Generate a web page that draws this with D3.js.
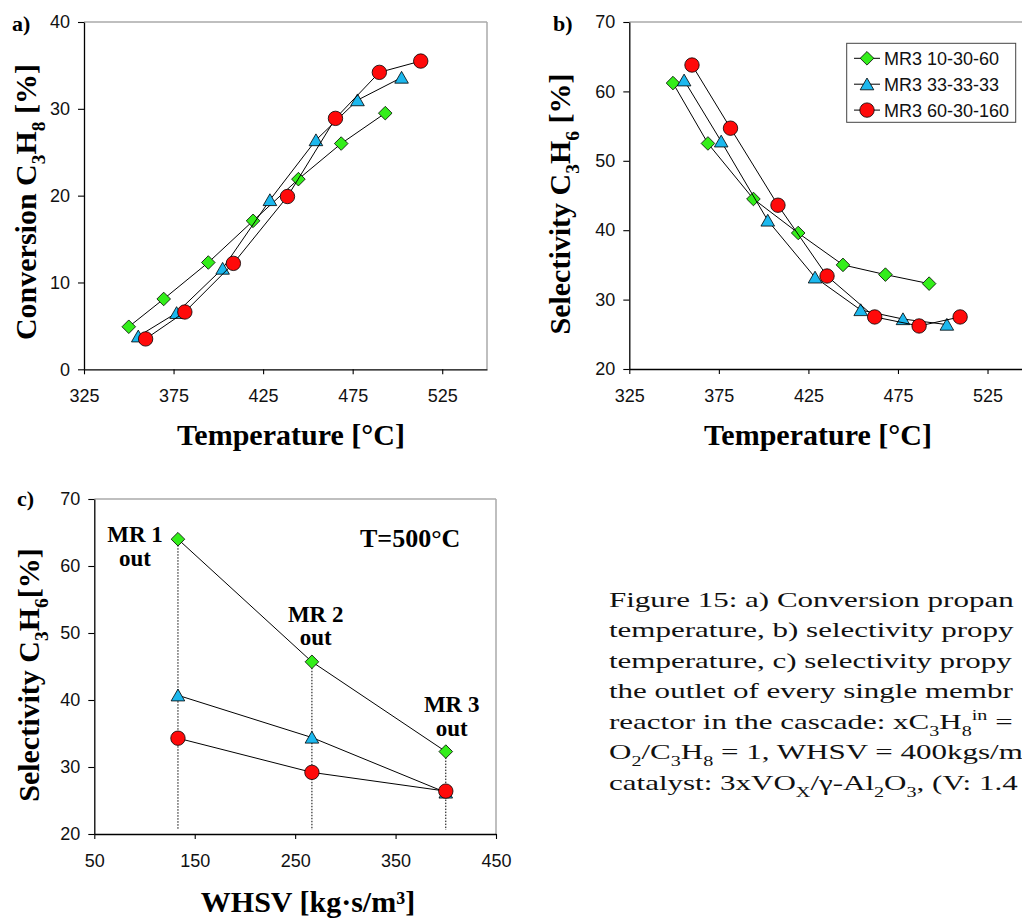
<!DOCTYPE html>
<html>
<head>
<meta charset="utf-8">
<script src="https://cdn.jsdelivr.net/npm/d3@7"></script>
<style>
body{margin:0;background:#fff;}
svg{display:block;}
</style>
</head>
<body>
<div id="chart"></div>
<script>
"use strict";

// series names, in legend order
let seriesNames = ["MR3 10-30-60", "MR3 33-33-33", "MR3 60-30-160"];

// a) conversion C3H8 [%] vs temperature [°C]
let tempA1 = [350, 369.5, 394.4, 419.4, 444.7, 468.6, 493.2];
let convA1 = [4.9, 8.1, 12.3, 17.1, 21.9, 26.0, 29.5];
let tempA2 = [355.3, 376.7, 402.4, 428.8, 454.5, 477.7, 502.3];
let convA2 = [3.8, 6.5, 11.6, 19.5, 26.4, 31.0, 33.6];
let tempA3 = [359.4, 381.3, 408.4, 438.6, 465.4, 489.9, 513];
let convA3 = [3.5, 6.6, 12.2, 19.9, 28.9, 34.2, 35.5];

// b) selectivity C3H6 [%] vs temperature [°C]
let tempB1 = [349.4, 368.9, 394.3, 419.3, 444.3, 468.0, 492.4];
let selB1 = [61.2, 52.5, 44.5, 39.6, 35.0, 33.6, 32.3];
let tempB2 = [355.6, 376.3, 402.3, 428.7, 454.2, 477.8, 502.3];
let selB2 = [61.6, 52.8, 41.4, 33.2, 28.5, 27.2, 26.4];
let tempB3 = [360, 381.5, 408, 435.4, 462, 486.8, 509.7];
let selB3 = [63.8, 54.7, 43.6, 33.4, 27.5, 26.2, 27.5];

// c) selectivity C3H6 [%] at reactor outlets vs WHSV
let whsv = [133.3, 266.7, 400];
let selC1 = [64.0, 45.7, 32.3];
let selC2 = [40.7, 34.4, 26.2];
let selC3 = [34.3, 29.2, 26.4];

// tick labels
let tempTicks = [325, 375, 425, 475, 525];
let convTicks = [0, 10, 20, 30, 40];
let selTicks = [20, 30, 40, 50, 60, 70];
let whsvTicks = [50, 150, 250, 350, 450];

let colors = ["#33ee1a", "#1cb8ee", "#ff0a0a"];
let kinds = ["diamond", "triangle", "circle"];

let serif = "'Liberation Serif','Times New Roman',serif";
let sans = "'Liberation Sans',Arial,sans-serif";

let svg = d3.select("#chart")
.append("svg")
.attr("width", 1022)
.attr("height", 919)
.style("font-family", sans);

function markerPath(kind){
  if(kind === "diamond") return "M0,-6.8L6.8,0L0,6.8L-6.8,0Z";
  if(kind === "triangle") return "M0,-6.2L6.8,5.6L-6.8,5.6Z";
  return d3.symbol().type(d3.symbolCircle).size(Math.PI * 52)();
}

// text made of pieces: 0 normal, 1 subscript, -1 superscript
function richText(sel, parts, fs){
  let cur = 0;
  parts.forEach(function(p){
    let off = p[1] === 1 ? fs * 0.3 : (p[1] === -1 ? -fs * 0.42 : 0);
    sel.append("tspan")
    .attr("dy", off - cur)
    .attr("font-size", p[1] === 0 ? fs : fs * 0.65)
    .text(p[0]);
    cur = off;
  });
}

function drawFrame(x, y, xTicks, yTicks){
  let x0 = x.range()[0], x1 = x.range()[1];
  let yb = y.range()[0], yt = y.range()[1];

  svg.append("line")
  .attr("x1", x0).attr("x2", x1).attr("y1", yt).attr("y2", yt)
  .attr("stroke", "#aaa").attr("stroke-width", 1.5);
  svg.append("line")
  .attr("x1", x1).attr("x2", x1).attr("y1", yt).attr("y2", yb)
  .attr("stroke", "#aaa").attr("stroke-width", 1.5);

  let gx = svg.append("g")
  .attr("transform", "translate(0," + yb + ")")
  .call(d3.axisBottom(x).tickValues(xTicks).tickSize(5).tickSizeOuter(0).tickPadding(15));
  let gy = svg.append("g")
  .attr("transform", "translate(" + x0 + ",0)")
  .call(d3.axisLeft(y).tickValues(yTicks).tickSize(6).tickSizeOuter(0).tickPadding(8));

  [gx, gy].forEach(function(g){
    g.select(".domain").attr("stroke", "#000").attr("stroke-width", 1.3);
    g.selectAll(".tick line").attr("stroke", "#000").attr("stroke-width", 1.1);
    g.selectAll(".tick text")
    .attr("font-family", sans)
    .attr("font-size", 18)
    .attr("fill", "#111");
  });
}

function drawSeries(x, y, xs, ys, i){
  let pts = xs.map(function(v, j){ return [x(v), y(ys[j])]; });

  svg.append("path")
  .attr("d", d3.line()(pts))
  .attr("fill", "none")
  .attr("stroke", "#000")
  .attr("stroke-width", 1);

  svg.append("g")
  .selectAll("path")
  .data(pts)
  .join("path")
  .attr("transform", function(d){ return "translate(" + d[0] + "," + d[1] + ")"; })
  .attr("d", markerPath(kinds[i]))
  .attr("fill", colors[i])
  .attr("stroke", "#000")
  .attr("stroke-width", 0.8);
}

function yTitle(cx, cy, parts){
  let t = svg.append("text")
  .attr("transform", "translate(" + cx + "," + cy + ") rotate(-90)")
  .attr("text-anchor", "middle")
  .attr("font-family", serif)
  .attr("font-weight", "bold");
  richText(t, parts, 30);
}

function plainText(x, y, txt, size, anchor){
  svg.append("text")
  .attr("x", x).attr("y", y)
  .attr("text-anchor", anchor)
  .attr("font-family", serif)
  .attr("font-weight", "bold")
  .attr("font-size", size)
  .text(txt);
}

// ---------- panel a ----------
let xA = d3.scaleLinear().domain([325, 550]).range([84, 487]);
let yA = d3.scaleLinear().domain([0, 40]).range([369.3, 22]);
drawFrame(xA, yA, tempTicks, convTicks);
drawSeries(xA, yA, tempA1, convA1, 0);
drawSeries(xA, yA, tempA2, convA2, 1);
drawSeries(xA, yA, tempA3, convA3, 2);
yTitle(36, 202, [["Conversion C", 0], ["3", 1], ["H", 0], ["8", 1], [" [%]", 0]]);
plainText(291, 445, "Temperature [°C]", 30, "middle");
plainText(12, 31, "a)", 22, "start");

// ---------- panel b ----------
let xB = d3.scaleLinear().domain([325, 550]).range([629.3, 1032.3]);
let yB = d3.scaleLinear().domain([20, 70]).range([369, 22]);
drawFrame(xB, yB, tempTicks, selTicks);
drawSeries(xB, yB, tempB1, selB1, 0);
drawSeries(xB, yB, tempB2, selB2, 1);
drawSeries(xB, yB, tempB3, selB3, 2);
yTitle(570, 204, [["Selectivity C", 0], ["3", 1], ["H", 0], ["6", 1], [" [%]", 0]]);
plainText(818, 445, "Temperature [°C]", 30, "middle");
plainText(553, 31, "b)", 22, "start");

// legend
svg.append("rect")
.attr("x", 846.7).attr("y", 43.3)
.attr("width", 169).attr("height", 79)
.attr("fill", "#fff")
.attr("stroke", "#444")
.attr("stroke-width", 1);

seriesNames.forEach(function(name, i){
  let ly = 58.3 + i * 25.9;
  svg.append("line")
  .attr("x1", 854).attr("x2", 880).attr("y1", ly).attr("y2", ly)
  .attr("stroke", "#000").attr("stroke-width", 1);
  svg.append("path")
  .attr("transform", "translate(867," + ly + ")")
  .attr("d", markerPath(kinds[i]))
  .attr("fill", colors[i])
  .attr("stroke", "#000")
  .attr("stroke-width", 0.8);
  svg.append("text")
  .attr("x", 884).attr("y", ly)
  .attr("dy", "0.36em")
  .attr("font-size", 18)
  .attr("fill", "#111")
  .text(name);
});

// ---------- panel c ----------
let xC = d3.scaleLinear().domain([50, 450]).range([94.3, 496]);
let yC = d3.scaleLinear().domain([20, 70]).range([834, 499]);
drawFrame(xC, yC, whsvTicks, selTicks);

// dotted drop lines at each reactor outlet
svg.append("g")
.selectAll("line")
.data(whsv)
.join("line")
.attr("x1", function(d){ return xC(d); })
.attr("x2", function(d){ return xC(d); })
.attr("y1", function(d, i){ return yC(selC1[i]); })
.attr("y2", yC(20.6))
.attr("stroke", "#000")
.attr("stroke-width", 1)
.attr("stroke-dasharray", "1.5,1.5");

drawSeries(xC, yC, whsv, selC1, 0);
drawSeries(xC, yC, whsv, selC2, 1);
drawSeries(xC, yC, whsv, selC3, 2);

yTitle(39, 675, [["Selectivity C", 0], ["3", 1], ["H", 0], ["6", 1], ["[%]", 0]]);
plainText(308, 912, "WHSV [kg·s/m³]", 30, "middle");
plainText(17, 506, "c)", 22, "start");

plainText(135, 541.7, "MR 1", 23, "middle");
plainText(135, 566, "out", 23, "middle");
plainText(315.7, 621.7, "MR 2", 23, "middle");
plainText(315.7, 645, "out", 23, "middle");
plainText(451.7, 712.3, "MR 3", 23, "middle");
plainText(451.7, 736, "out", 23, "middle");
plainText(360, 546.7, "T=500°C", 26, "start");

// ---------- caption (only the part the page shows) ----------
let captionLines = [
  [["Figure 15: a) Conversion propan", 0]],
  [["temperature, b) selectivity propy", 0]],
  [["temperature, c) selectivity propy", 0]],
  [["the outlet of every single membr", 0]],
  [["reactor in the cascade: xC", 0], ["3", 1], ["H", 0], ["8", 1], ["in", -1], [" =", 0]],
  [["O", 0], ["2", 1], ["/C", 0], ["3", 1], ["H", 0], ["8", 1], [" = 1, WHSV = 400kgs/m", 0]],
  [["catalyst: 3xVO", 0], ["X", 1], ["/γ-Al", 0], ["2", 1], ["O", 0], ["3", 1], [", (V: 1.4", 0]]
];

let cap = svg.append("g")
.attr("transform", "translate(609,0) scale(1.41,1)")
.attr("font-family", serif)
.attr("fill", "#111");

captionLines.forEach(function(parts, i){
  let t = cap.append("text")
  .attr("x", 0)
  .attr("y", 607 + i * 30.5);
  richText(t, parts, 22);
});
</script>
</body>
</html>
